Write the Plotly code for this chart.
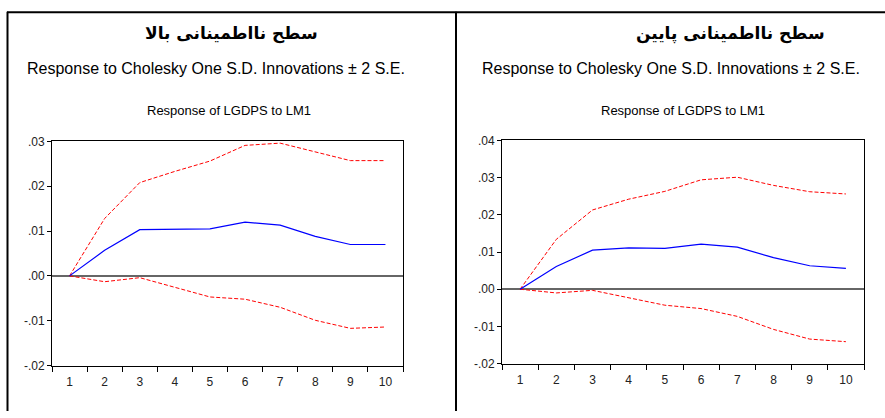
import plotly.graph_objects as go

periods = [1, 2, 3, 4, 5, 6, 7, 8, 9, 10]

# Left panel (high uncertainty)
high_resp = [0.0, 0.0057, 0.0103, 0.0104, 0.0105, 0.0120, 0.0113, 0.0088, 0.0070, 0.0070]
high_upper = [0.0, 0.0128, 0.0208, 0.0233, 0.0256, 0.0291, 0.0296, 0.0276, 0.0257, 0.0257]
high_lower = [0.0, -0.0013, -0.0004, -0.0025, -0.0047, -0.0052, -0.0070, -0.0099, -0.0117, -0.0114]

# Right panel (low uncertainty)
low_resp = [0.0, 0.0061, 0.0105, 0.0111, 0.0110, 0.0121, 0.0113, 0.0085, 0.0063, 0.0056]
low_upper = [0.0, 0.0134, 0.0213, 0.0242, 0.0263, 0.0294, 0.0301, 0.0279, 0.0262, 0.0256]
low_lower = [0.0, -0.0010, -0.0003, -0.0022, -0.0043, -0.0052, -0.0073, -0.0108, -0.0134, -0.0141]

left_yticks = [-0.02, -0.01, 0.0, 0.01, 0.02, 0.03]
left_ytext = ["-.02", "-.01", ".00", ".01", ".02", ".03"]
right_yticks = [-0.02, -0.01, 0.0, 0.01, 0.02, 0.03, 0.04]
right_ytext = ["-.02", "-.01", ".00", ".01", ".02", ".03", ".04"]

title_high = "سطح نااطمینانی بالا"
title_low = "سطح نااطمینانی پایین"
subtitle = "Response to Cholesky One S.D. Innovations ± 2 S.E."
panel_title = "Response of LGDPS to LM1"

W, H = 885, 418
def px(x):
    return x / W
def py(y):
    return 1 - y / H

fig = go.Figure()

def add_panel(resp, upper, lower, xa, ya):
    fig.add_trace(go.Scatter(x=periods, y=upper, mode="lines", xaxis=xa, yaxis=ya,
                             line=dict(color="#ff0000", width=1, dash="4px,2px"), showlegend=False))
    fig.add_trace(go.Scatter(x=periods, y=lower, mode="lines", xaxis=xa, yaxis=ya,
                             line=dict(color="#ff0000", width=1, dash="4px,2px"), showlegend=False))
    fig.add_trace(go.Scatter(x=periods, y=resp, mode="lines", xaxis=xa, yaxis=ya,
                             line=dict(color="#0000ff", width=1.2), showlegend=False))

add_panel(high_resp, high_upper, high_lower, "x", "y")
add_panel(low_resp, low_upper, low_lower, "x2", "y2")

tickfont = dict(family="Liberation Sans, Arial, sans-serif", size=12, color="#222")

def xaxis_cfg(dom, anchor):
    return dict(domain=dom, anchor=anchor, range=[0.5, 10.5], tickvals=periods,
                ticktext=[str(p) for p in periods], ticks="", showgrid=False,
                zeroline=False, showline=True, linecolor="#000", linewidth=1, mirror=True,
                tickfont=tickfont, ticklabelstandoff=5,
                minor=dict(tickmode="linear", tick0=0.5, dtick=1, ticks="outside",
                           ticklen=5, tickcolor="#000", tickwidth=1, showgrid=False))

def yaxis_cfg(dom, anchor, rng, vals, text):
    return dict(domain=dom, anchor=anchor, range=rng, tickvals=vals, ticktext=text,
                ticks="outside", ticklen=4, tickcolor="#000", tickwidth=1,
                showgrid=False, zeroline=True, zerolinecolor="#666", zerolinewidth=2,
                showline=True, linecolor="#000", linewidth=1, mirror=True,
                tickfont=tickfont)

fig.update_layout(
    width=W, height=H,
    margin=dict(l=0, r=0, t=0, b=0),
    paper_bgcolor="white", plot_bgcolor="white",
    xaxis=xaxis_cfg([px(52), px(403)], "y"),
    yaxis=yaxis_cfg([py(371), py(139)], "x", [-0.02, 0.03], left_yticks, left_ytext),
    xaxis2=xaxis_cfg([px(502), px(864)], "y2"),
    yaxis2=yaxis_cfg([py(369), py(138)], "x2", [-0.02, 0.04], right_yticks, right_ytext),
)

# Table-like borders
line = dict(color="#000", width=2)
fig.add_shape(type="line", xref="paper", yref="paper", x0=px(7), x1=1, y0=py(5.5), y1=py(5.5), line=line)
fig.add_shape(type="line", xref="paper", yref="paper", x0=px(7.5), x1=px(7.5), y0=py(5), y1=0, line=line)
fig.add_shape(type="line", xref="paper", yref="paper", x0=px(456), x1=px(456), y0=py(5), y1=0, line=line)

def ann(text, x, y, size, bold=False, family="Liberation Sans, Arial, sans-serif"):
    fig.add_annotation(text=("<b>%s</b>" % text) if bold else text, x=px(x), y=py(y),
                       xref="paper", yref="paper", showarrow=False,
                       xanchor="center", yanchor="middle",
                       font=dict(family=family, size=size, color="#000"))

ann(title_high, 231, 27, 17, bold=True, family="DejaVu Sans, serif")
ann(title_low, 730, 27, 17, bold=True, family="DejaVu Sans, serif")
ann(subtitle, 216, 64, 16)
ann(subtitle, 671, 64, 16)
ann(panel_title, 229, 107, 13)
ann(panel_title, 683, 107, 13)

fig.write_html("out.html", config={"displayModeBar": False},
               post_script="document.body.style.margin='0';document.body.style.padding='0';")
